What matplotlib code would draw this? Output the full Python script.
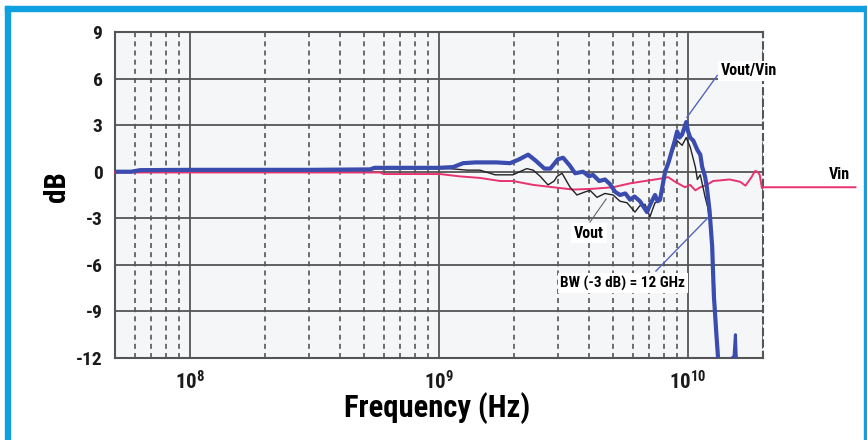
import numpy as np
import matplotlib
matplotlib.use("Agg")
import matplotlib.pyplot as plt
from matplotlib.patches import Rectangle
from matplotlib.ticker import FixedLocator, LogLocator, NullFormatter

plt.rcParams['font.family'] = ['Roboto Condensed', 'DejaVu Sans']
plt.rcParams['font.weight'] = 'bold'
plt.rcParams['mathtext.fontset'] = 'custom'
plt.rcParams['mathtext.rm'] = 'Roboto Condensed:bold'
plt.rcParams['mathtext.default'] = 'rm'

# Vout/Vin (blue)
blue_f = [5.0e7, 5.8e7, 6.3e7, 1.0e8, 3.0e8, 5.3e8, 5.5e8, 1.0e9, 1.14e9, 1.25e9,
          1.4e9, 1.7e9, 1.93e9, 2.1e9, 2.28e9, 2.45e9, 2.65e9, 2.8e9, 3.0e9, 3.15e9,
          3.35e9, 3.52e9, 3.79e9, 4.0e9, 4.15e9, 4.4e9, 4.64e9, 4.86e9, 5.1e9, 5.33e9,
          5.6e9, 5.85e9, 6.1e9, 6.41e9, 6.84e9, 7.1e9, 7.37e9, 7.55e9, 7.72e9, 8.09e9,
          8.35e9, 8.63e9, 8.85e9, 9.04e9, 9.25e9, 9.47e9, 9.65e9, 9.83e9, 1.0e10, 1.02e10,
          1.05e10, 1.09e10, 1.12e10, 1.14e10, 1.17e10, 1.19e10, 1.22e10, 1.25e10, 1.27e10, 1.30e10,
          1.32e10, 1.34e10]
blue_db = [0.0, 0.0, 0.1, 0.12, 0.12, 0.15, 0.25, 0.25, 0.3, 0.55,
           0.6, 0.6, 0.55, 0.8, 1.1, 0.7, 0.2, 0.2, 0.8, 0.9,
           0.4, -0.1, 0.0, -0.3, -0.2, -0.6, -0.5, -0.8, -1.3, -1.5,
           -1.4, -1.8, -1.6, -1.9, -2.6, -2.0, -1.5, -1.9, -1.8, 0.0,
           0.6, 1.4, 2.0, 2.6, 2.2, 2.4, 2.8, 3.2, 2.6, 2.2,
           2.0, 1.4, 1.1, 0.3, -0.3, -1.0, -2.5, -4.8, -8.0, -10.5,
           -12.0, -12.6]
spike_f = [1.45e10, 1.50e10, 1.53e10, 1.55e10, 1.56e10, 1.57e10]
spike_db = [-12.3, -12.0, -11.9, -10.5, -11.8, -12.1]

# Vout (black)
black_f = [5.0e7, 1.0e8, 5.3e8, 5.5e8, 1.1e9, 1.3e9, 1.46e9, 1.68e9, 1.98e9, 2.11e9,
           2.25e9, 2.39e9, 2.55e9, 2.74e9, 2.9e9, 2.98e9, 3.12e9, 3.36e9, 3.58e9, 3.86e9,
           4.04e9, 4.31e9, 4.64e9, 5.0e9, 5.33e9, 5.69e9, 6.12e9, 6.4e9, 6.72e9, 7.03e9,
           7.37e9, 7.72e9, 8.09e9, 8.63e9, 9.04e9, 9.47e9, 9.83e9, 1.02e10, 1.07e10, 1.09e10,
           1.12e10, 1.17e10, 1.20e10, 1.23e10, 1.26e10, 1.29e10, 1.32e10]
black_db = [0.0, 0.1, 0.1, 0.2, 0.2, 0.1, 0.1, -0.2, -0.2, 0.0,
            0.2, 0.1, -0.3, -0.85, -0.6, -0.3, -0.1, -1.0, -1.5, -1.3,
            -1.2, -1.65, -1.4, -1.5, -1.9, -2.0, -2.6, -2.2, -2.1, -2.9,
            -2.0, -1.9, 0.0, 1.2, 2.0, 1.7, 2.2, 1.6, 0.3, -0.5,
            -0.2, -1.6, -2.3, -3.5, -5.5, -9.0, -12.0]

# Vin (pink), runs on past the right edge
pink_f = [5.0e7, 5.8e8, 6.0e8, 1.01e9, 1.21e9, 1.46e9, 1.76e9, 1.98e9, 2.39e9, 2.87e9,
          3.45e9, 4.15e9, 5.0e9, 5.85e9, 6.41e9, 7.72e9, 8.32e9, 8.88e9, 9.72e9, 1.02e10,
          1.07e10, 1.12e10, 1.19e10, 1.26e10, 1.47e10, 1.62e10, 1.70e10, 1.79e10, 1.86e10, 1.90e10,
          1.94e10, 1.98e10, 2.03e10, 4.7e10]
pink_db = [-0.05, -0.05, -0.15, -0.15, -0.3, -0.4, -0.6, -0.6, -0.85, -1.0,
           -1.15, -1.1, -1.0, -0.75, -0.65, -0.45, -0.35, -0.65, -1.0, -0.85,
           -1.2, -1.0, -0.85, -0.6, -0.5, -0.65, -0.9, -0.4, 0.05, 0.0,
           -0.2, -1.05, -1.0, -1.0]

y_ticks = [9, 6, 3, 0, -3, -6, -9, -12]
x_major = [1e8, 1e9, 1e10]
x_labels = [r'$10^{8}$', r'$10^{9}$', r'$10^{10}$']

fig = plt.figure(figsize=(8.67, 4.40), dpi=100)
fig.patch.set_facecolor('white')
ax = fig.add_axes([115/867, 1 - 358/440, 648/867, 326/440])
ax.set_facecolor('#f5f6f7')

ax.set_xscale('log')
ax.set_xlim(5e7, 2e10)
ax.set_ylim(-12, 9)

ax.xaxis.set_major_locator(FixedLocator(x_major))
ax.set_xticklabels(x_labels)
ax.xaxis.set_minor_locator(LogLocator(base=10, subs=np.arange(2, 10)))
ax.xaxis.set_minor_formatter(NullFormatter())
ax.set_yticks(y_ticks)
ax.set_yticklabels([str(v) for v in y_ticks])

grid_c = '#555555'
ax.grid(True, which='major', axis='both', color=grid_c, lw=1.3, ls='-')
ax.grid(True, which='minor', axis='x', color=grid_c, lw=1.2, ls=(0, (3, 2.5)))
for s in ['left', 'top', 'bottom']:
    ax.spines[s].set_color(grid_c)
    ax.spines[s].set_linewidth(1.5)
ax.spines['right'].set_color(grid_c)
ax.spines['right'].set_linewidth(1.5)
ax.spines['right'].set_linestyle((0, (3, 2.5)))

ax.tick_params(which='both', length=0)
ax.tick_params(axis='y', labelsize=14, pad=9, colors='#1a1a1a')
ax.tick_params(axis='x', labelsize=15, pad=9, colors='#1a1a1a')
ax.set_axisbelow(True)

ax.plot(pink_f, pink_db, color='#e8336f', lw=1.4, clip_on=False, zorder=3)
ax.plot(black_f, black_db, color='#222222', lw=1.0, zorder=4)
ax.plot(blue_f, blue_db, color='#3a4cae', lw=3.0, zorder=5)
ax.plot(spike_f, spike_db, color='#3a4cae', lw=2.2, zorder=5)

# leader lines
ax.plot([9.9e9, 1.31e10], [3.5, 6.2], color='#5565bb', lw=1.0, zorder=6)
ax.plot([7.43e9, 1.20e10], [-6.4, -2.98], color='#5565bb', lw=1.0, zorder=6)
ax.plot([4.04e9, 4.69e9], [-3.24, -1.76], color='#666666', lw=0.8, zorder=6)

box = dict(facecolor='white', edgecolor='none', pad=2)
ax.text(1.76e10, 6.49, 'Vout/Vin', fontsize=11.5, ha='center', va='center', bbox=box, zorder=7)
ax.text(4.07e10, -0.2, 'Vin', fontsize=11.5, ha='center', va='center', bbox=box, zorder=7, clip_on=False)
ax.text(4.0e9, -3.95, 'Vout', fontsize=11.5, ha='center', va='center', bbox=box, zorder=7)
ax.text(5.48e9, -7.17, 'BW (-3 dB) = 12 GHz', fontsize=11, ha='center', va='center', bbox=box, zorder=7)

ax.set_xlabel('Frequency (Hz)', fontsize=22, fontweight='bold')
ax.xaxis.set_label_coords(0.497, -0.105)
ax.set_ylabel('dB', fontsize=21, fontweight='bold')
ax.yaxis.label.set_va('center')
ax.yaxis.set_label_coords(-0.0895, 0.525)

# blue frame
frame_c = '#0ea0df'
fig.patches.append(Rectangle((5/867, 0), 5/867, 434/440, transform=fig.transFigure,
                             color=frame_c, zorder=10))
fig.patches.append(Rectangle((5/867, 1 - 11/440), 862/867, 5/440, transform=fig.transFigure,
                             color=frame_c, zorder=10))
fig.patches.append(Rectangle((864/867, 0), 2/867, 434/440, transform=fig.transFigure,
                             color=frame_c, zorder=10))

fig.savefig('out.png', dpi=100)
